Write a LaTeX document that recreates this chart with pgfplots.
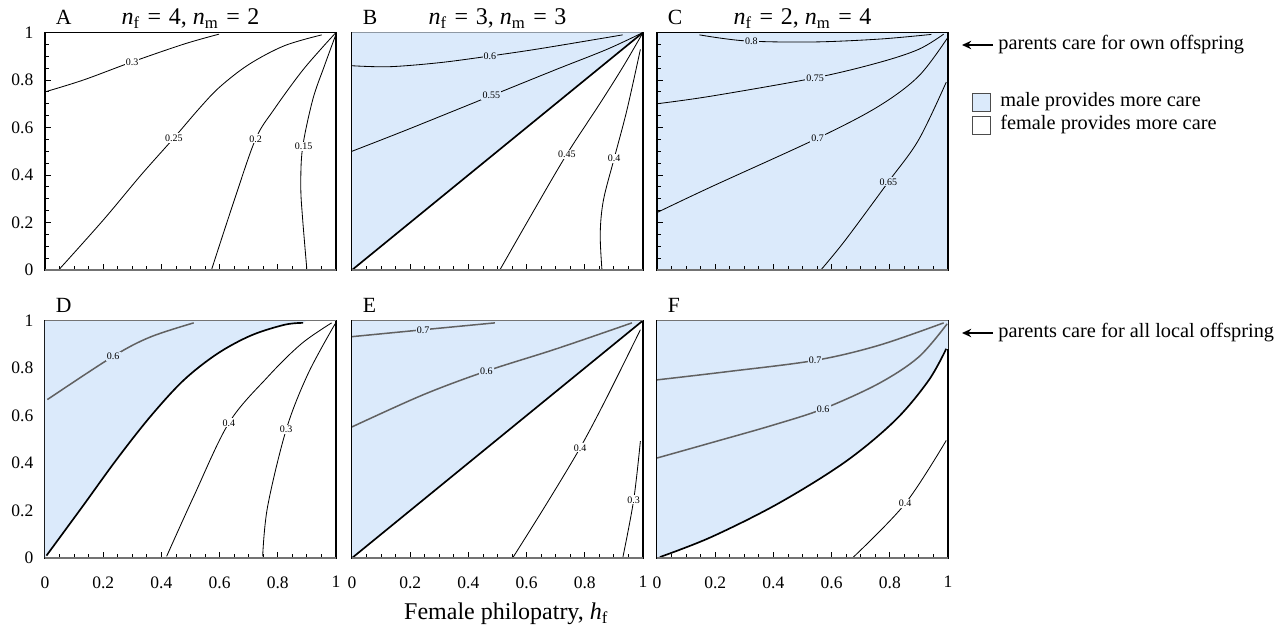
\documentclass[border=0pt]{standalone}
\usepackage{fontspec}
\setmainfont{Liberation Serif}
\usepackage{pgfplots}
\pgfplotsset{compat=1.18}
\usetikzlibrary{arrows.meta}
\definecolor{bluefill}{RGB}{219,234,251}

\newcommand\clab[4][white]{\node[fill=#1,inner sep=0.7pt,font=\fontsize{6}{6}\selectfont] at (axis cs:#2,#3) {#4};}
\newcommand\tit[2]{\node[anchor=base,font=\fontsize{14.4}{15}\selectfont,yshift=4.8pt] at (rel axis cs:0.5,1)
 {\textit{n}\textsubscript{f}\hspace{0.32em}=\hspace{0.32em}#1, \textit{n}\textsubscript{m}\hspace{0.32em}=\hspace{0.32em}#2};}

\pgfplotsset{
 panel/.style={
  scale only axis,width=174.6pt,height=142.5pt,anchor=south west,
  xmin=0,xmax=1,ymin=0,ymax=1,
  xtick={0,0.2,0.4,0.6,0.8,1},ytick={0,0.2,0.4,0.6,0.8,1},
  minor tick num=3,tick align=inside,xtick pos=left,ytick pos=left,
  major tick length=3.6pt,minor tick length=2.2pt,
  tick style={black,line width=0.5pt},
  axis line style={black,line width=0.7pt},
  /pgf/number format/assume math mode=true,
  tick label style={font=\fontsize{10.5}{11}\selectfont},
  xticklabel style={yshift=-7.5pt},
  yticklabel style={xshift=-3.5pt},
  clip mode=individual,
 },
 c/.style={black,line width=0.5pt,smooth,tension=0.55},
 g/.style={black!62,line width=0.9pt,smooth,tension=0.55},
 bd/.style={black,line width=1pt,smooth,tension=0.55},
}
\newcommand\letter[1]{\node[anchor=base west,font=\fontsize{13}{13}\selectfont,xshift=3pt,yshift=4.8pt] at (rel axis cs:0,1) {#1};}
\newcommand\graybottom{\draw[black!55,line width=1.1pt] (rel axis cs:0,0) -- (rel axis cs:1,0);}
\newcommand\graytop{\draw[black!55,line width=1.1pt] (rel axis cs:0,1) -- (rel axis cs:1,1);}

\begin{document}
\begin{tikzpicture}
\useasboundingbox (0,0) rectangle (767.4pt,378pt);

% ---- A ----
\begin{axis}[panel,at={(27pt,216pt)},xticklabels={}]
\addplot[c] coordinates {(0,0.75) (0.132,0.80) (0.299,0.876) (0.477,0.951) (0.598,0.993)};
\addplot[c] coordinates {(0.049,0.003) (0.2,0.21) (0.33,0.40) (0.443,0.556) (0.53,0.68) (0.6,0.77) (0.7,0.865) (0.822,0.944) (0.951,0.99)};
\addplot[c] coordinates {(0.572,0) (0.651,0.296) (0.724,0.552) (0.787,0.676) (0.879,0.831) (0.948,0.93) (1,1)};
\addplot[c] coordinates {(0.9,0) (0.885,0.22) (0.879,0.352) (0.885,0.514) (0.92,0.717) (0.96,0.859) (0.998,0.986)};
\clab{0.299}{0.876}{0.3}
\clab{0.443}{0.556}{0.25}
\clab{0.724}{0.552}{0.2}
\clab{0.889}{0.521}{0.15}
\graybottom
\letter{A}\tit{4}{2}
\end{axis}

% ---- B ----
\begin{axis}[panel,at={(211.2pt,216pt)},xticklabels={},yticklabels={}]
\addplot[fill=bluefill,draw=none] coordinates {(0,0) (1,1) (0,1)} -- cycle;
\addplot[bd] coordinates {(0,0) (1,1)};
\addplot[c] coordinates {(0,0.86) (0.129,0.856) (0.301,0.873) (0.474,0.901) (0.646,0.932) (0.93,0.99)};
\addplot[c] coordinates {(0,0.5) (0.186,0.589) (0.479,0.734) (0.703,0.845) (0.876,0.929) (1,1)};
\addplot[c] coordinates {(0.508,0) (0.62,0.24) (0.738,0.487) (0.853,0.703) (0.933,0.859) (1,1)};
\addplot[c] coordinates {(0.859,0) (0.853,0.153) (0.864,0.294) (0.901,0.47) (0.945,0.675) (0.991,0.929)};
\clab[bluefill]{0.474}{0.901}{0.6}
\clab[bluefill]{0.479}{0.734}{0.55}
\clab{0.738}{0.487}{0.45}
\clab{0.901}{0.47}{0.4}
\graybottom
\letter{B}\tit{3}{3}
\end{axis}

% ---- C ----
\begin{axis}[panel,at={(394.2pt,216pt)},xticklabels={},yticklabels={},
 axis background/.style={fill=bluefill}]
\addplot[c] coordinates {(0.146,0.99) (0.301,0.965) (0.531,0.96) (0.761,0.972) (0.943,0.992)};
\addplot[c] coordinates {(0,0.70) (0.186,0.732) (0.543,0.809) (0.761,0.873) (0.899,0.929) (0.985,0.993)};
\addplot[c] coordinates {(0,0.242) (0.186,0.35) (0.552,0.555) (0.761,0.689) (0.899,0.816) (0.997,0.975)};
\addplot[c] coordinates {(0.563,0) (0.646,0.124) (0.795,0.371) (0.899,0.548) (0.994,0.791)};
\clab[bluefill]{0.324}{0.965}{0.8}
\clab[bluefill]{0.543}{0.809}{0.75}
\clab[bluefill]{0.552}{0.555}{0.7}
\clab[bluefill]{0.795}{0.371}{0.65}
\graybottom
\letter{C}\tit{2}{4}
\end{axis}

% ---- D ----
\begin{axis}[panel,at={(27pt,43.2pt)}]
\addplot[fill=bluefill,draw=none] coordinates {(0,0) (0.129,0.217) (0.245,0.413) (0.361,0.594) (0.476,0.748) (0.592,0.86) (0.708,0.937) (0.823,0.982) (0.887,0.99) (0.9,1) (0,1)} -- cycle;
\addplot[bd] coordinates {(0.005,0.01) (0.129,0.217) (0.245,0.413) (0.361,0.594) (0.476,0.748) (0.592,0.86) (0.708,0.937) (0.823,0.982) (0.887,0.99)};
\addplot[g] coordinates {(0.008,0.667) (0.234,0.849) (0.361,0.93) (0.511,0.99)};
\addplot[c] coordinates {(0.418,0.007) (0.511,0.259) (0.632,0.569) (0.765,0.762) (0.881,0.902) (0.985,0.99)};
\addplot[c] coordinates {(0.748,0.007) (0.765,0.217) (0.829,0.541) (0.904,0.776) (0.997,0.986)};
\clab[bluefill]{0.234}{0.849}{0.6}
\clab{0.632}{0.569}{0.4}
\clab{0.829}{0.541}{0.3}
\graybottom\graytop
\letter{D}
\end{axis}

% ---- E ----
\begin{axis}[panel,at={(211.2pt,43.2pt)},yticklabels={},
 xlabel={Female philopatry, \textit{h}\textsubscript{f}},
 xlabel style={font=\fontsize{14.4}{15}\selectfont,at={(0.53,0)},anchor=base,yshift=-37pt}]
\addplot[fill=bluefill,draw=none] coordinates {(0,0) (1,1) (0,1)} -- cycle;
\addplot[bd] coordinates {(0,0) (1,1)};
\addplot[g] coordinates {(0,0.932) (0.244,0.961) (0.491,0.99)};
\addplot[g] coordinates {(0,0.552) (0.244,0.687) (0.462,0.787) (0.703,0.881) (0.962,0.99)};
\addplot[c] coordinates {(0.554,0.004) (0.669,0.229) (0.784,0.464) (0.876,0.677) (0.991,0.961)};
\addplot[c] coordinates {(0.931,0.004) (0.968,0.245) (0.991,0.492)};
\clab[bluefill]{0.244}{0.961}{0.7}
\clab[bluefill]{0.462}{0.787}{0.6}
\clab{0.784}{0.464}{0.4}
\clab{0.968}{0.245}{0.3}
\graybottom\graytop
\letter{E}
\end{axis}

% ---- F ----
\begin{axis}[panel,at={(394.2pt,43.2pt)},yticklabels={}]
\addplot[fill=bluefill,draw=none] coordinates {(0,0) (0.186,0.088) (0.416,0.229) (0.646,0.404) (0.818,0.579) (0.933,0.747) (0.994,0.881) (1,0.88) (1,1) (0,1)} -- cycle;
\addplot[bd] coordinates {(0.01,0.004) (0.186,0.088) (0.416,0.229) (0.646,0.404) (0.818,0.579) (0.933,0.747) (0.994,0.881)};
\addplot[g] coordinates {(0,0.75) (0.244,0.785) (0.543,0.832) (0.761,0.895) (0.985,0.99)};
\addplot[g] coordinates {(0,0.421) (0.2,0.49) (0.4,0.56) (0.571,0.628) (0.761,0.734) (0.899,0.846) (0.997,0.986)};
\addplot[c] coordinates {(0.675,0.004) (0.853,0.229) (0.994,0.495)};
\clab[bluefill]{0.543}{0.832}{0.7}
\clab[bluefill]{0.571}{0.628}{0.6}
\clab{0.853}{0.229}{0.4}
\graybottom\graytop
\letter{F}
\end{axis}

% ---- right-hand notes ----
\begin{scope}[font=\fontsize{12.2}{13}\selectfont]
\draw[-{Stealth[length=5.5pt,width=5pt]},line width=1.3pt] (595.8pt,351pt) -- (577.2pt,351pt);
\node[anchor=west,inner sep=0pt] at (598.8pt,351pt) {parents care for own offspring};
\draw[-{Stealth[length=5.5pt,width=5pt]},line width=1.3pt] (595.8pt,178.2pt) -- (577.2pt,178.2pt);
\node[anchor=west,inner sep=0pt] at (598.8pt,178.2pt) {parents care for all local offspring};
\draw[fill=bluefill,draw=black!70,line width=0.5pt] (583.2pt,311.4pt) rectangle (594pt,322.2pt);
\node[anchor=west,inner sep=0pt] at (600pt,316.8pt) {male provides more care};
\draw[fill=white,draw=black!70,line width=0.5pt] (583.2pt,297.6pt) rectangle (594pt,308.4pt);
\node[anchor=west,inner sep=0pt] at (600pt,303pt) {female provides more care};
\end{scope}
\end{tikzpicture}
\end{document}
